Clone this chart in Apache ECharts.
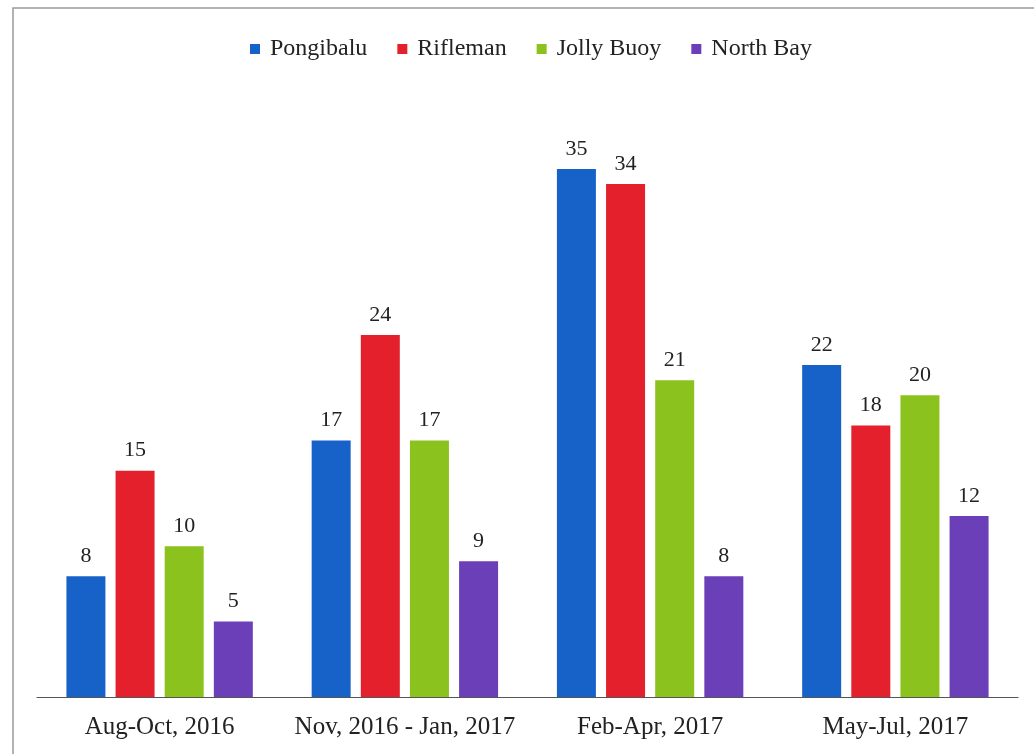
<!DOCTYPE html>
<html>
<head>
<meta charset="utf-8">
<script src="https://cdn.jsdelivr.net/npm/echarts@6/dist/echarts.min.js"></script>
<style>
  html, body { margin: 0; padding: 0; background: #fff; }
  #chart { width: 1034px; height: 754px; }
</style>
</head>
<body>
<div id="chart"></div>
<script>
// Sampling periods and site-wise counts
const periods = ['Aug-Oct, 2016', 'Nov, 2016 - Jan, 2017', 'Feb-Apr, 2017', 'May-Jul, 2017'];
const siteNames = ['Pongibalu', 'Rifleman', 'Jolly Buoy', 'North Bay'];
const pongibalu = [8, 17, 35, 22];
const rifleman = [15, 24, 34, 18];
const jollyBuoy = [10, 17, 21, 20];
const northBay = [5, 9, 8, 12];

const siteValues = [pongibalu, rifleman, jollyBuoy, northBay];
const siteColors = ['#1762c9', '#e3202c', '#8cc21e', '#6b3fb8'];
const serif = '"Liberation Serif", "DejaVu Serif", serif';

const chart = echarts.init(document.getElementById('chart'));

chart.setOption({
  animation: false,
  backgroundColor: '#fff',
  textStyle: { fontFamily: serif },
  graphic: [{
    type: 'rect',
    shape: { x: 13, y: 8, width: 1040, height: 760 },
    style: { fill: 'none', stroke: '#9a9a9a', lineWidth: 1.5 },
    silent: true
  }],
  legend: {
    top: 32,
    left: 245,
    itemWidth: 10,
    itemHeight: 10,
    itemGap: 30,
    icon: 'rect',
    textStyle: { fontFamily: serif, fontSize: 24, color: '#222', padding: [0, 0, 0, 5] },
    data: siteNames
  },
  grid: { left: 37, right: 16, top: 80, bottom: 57 },
  xAxis: {
    type: 'category',
    data: periods,
    axisLine: { lineStyle: { color: '#555', width: 1.2 } },
    axisTick: { show: false },
    axisLabel: { interval: 0, fontFamily: serif, fontSize: 25, color: '#222', margin: 18 }
  },
  yAxis: {
    type: 'value',
    min: 0,
    max: 40.9,
    show: false,
    splitLine: { show: false }
  },
  series: siteNames.map((name, i) => ({
    name: name,
    type: 'bar',
    data: siteValues[i],
    barWidth: 39,
    barGap: '26%',
    itemStyle: { color: siteColors[i] },
    label: {
      show: true,
      position: 'top',
      distance: 9,
      fontFamily: serif,
      fontSize: 22,
      color: '#222'
    }
  }))
});
</script>
</body>
</html>
